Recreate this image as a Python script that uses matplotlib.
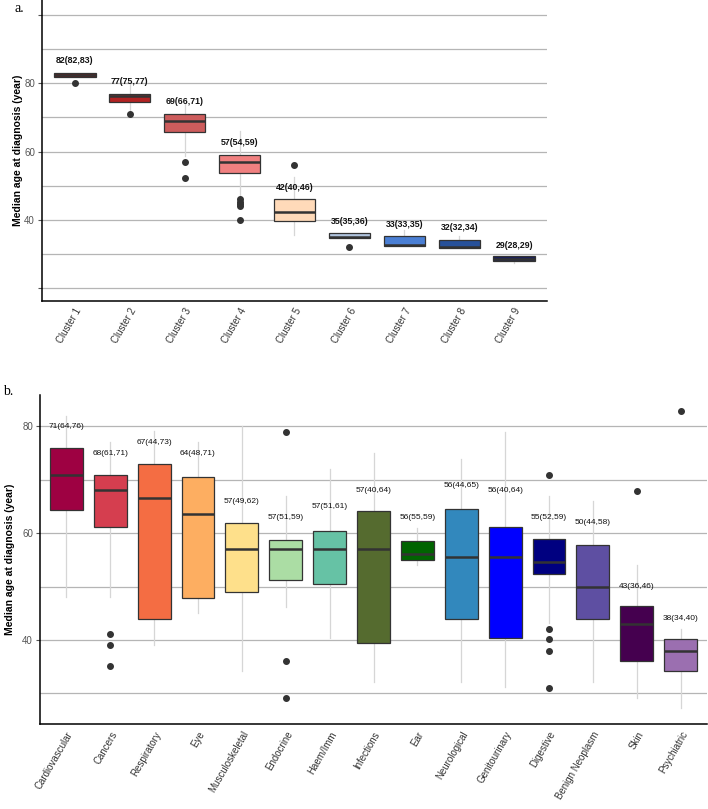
import re
import numpy as np
import matplotlib
matplotlib.use("Agg")
import matplotlib.pyplot as plt
from matplotlib.ticker import FixedLocator

plt.rcParams['font.family'] = ['Liberation Sans', 'DejaVu Sans']

# ---- panel a data: clusters ----
clusters = ['Cluster 1', 'Cluster 2', 'Cluster 3', 'Cluster 4', 'Cluster 5',
            'Cluster 6', 'Cluster 7', 'Cluster 8', 'Cluster 9']
a_q1 = [81.8, 74.6, 65.8, 53.8, 39.6, 34.6, 32.4, 31.6, 27.9]
a_med = [82.4, 76.4, 68.9, 56.8, 42.2, 34.9, 32.7, 31.9, 28.6]
a_q3 = [83.1, 77.0, 71.0, 59.0, 46.1, 36.0, 35.3, 34.2, 29.3]
a_lo = [81.8, 72.0, 58.8, 46.9, 35.6, 34.6, 32.4, 31.6, 27.3]
a_hi = [83.1, 80.0, 74.0, 65.9, 52.4, 36.0, 36.9, 35.3, 29.3]
a_out = [[80.0], [70.9], [56.8, 52.1], [46.0, 45.3, 44.6, 44.0, 40.0], [56.0],
         [32.0], [], [], []]
a_labels = ['82(82,83)', '77(75,77)', '69(66,71)', '57(54,59)', '42(40,46)',
            '35(35,36)', '33(33,35)', '32(32,34)', '29(28,29)']
a_colors = ['#8b0a0a', '#b22222', '#cd5c5c', '#f08080', '#ffdab9',
            '#b0c4de', '#4a7fd4', '#27519a', '#1a1f5c']

# ---- panel b data: disease categories ----
cats = ['Cardiovascular', 'Cancers', 'Respiratory', 'Eye', 'Musculoskeletal',
        'Endocrine', 'Haem/Imm', 'Infections', 'Ear', 'Neurological',
        'Genitourinary', 'Digestive', 'Benign Neoplasm', 'Skin', 'Psychiatric']
b_q1 = [64.3, 61.1, 43.9, 47.8, 49.0, 51.3, 50.5, 39.5, 55.0, 44.0, 40.3, 52.3, 44.0, 36.0, 34.1]
b_med = [71.0, 68.1, 66.6, 63.6, 57.0, 57.0, 57.0, 57.1, 56.1, 55.6, 55.6, 54.6, 50.0, 43.0, 38.0]
b_q3 = [75.9, 71.0, 73.0, 70.5, 62.0, 58.7, 60.5, 64.1, 58.5, 64.5, 61.1, 59.0, 57.8, 46.4, 40.2]
b_lo = [48.0, 48.0, 39.1, 45.1, 34.1, 46.1, 40.3, 32.1, 54.0, 32.1, 31.1, 43.2, 32.1, 29.1, 27.3]
b_hi = [81.9, 77.0, 79.1, 77.0, 80.0, 67.0, 72.0, 75.0, 61.0, 74.0, 79.0, 67.0, 66.0, 54.0, 42.1]
b_out = [[], [41.1, 39.1, 35.1], [], [], [], [78.9, 36.0, 29.1], [], [], [], [], [],
         [71.0, 42.0, 40.1, 38.0, 31.0], [], [68.0], [82.9]]
b_labels = ['71(64,76)', '68(61,71)', '67(44,73)', '64(48,71)', '57(49,62)',
            '57(51,59)', '57(51,61)', '57(40,64)', '56(55,59)', '56(44,65)',
            '56(40,64)', '55(52,59)', '50(44,58)', '43(36,46)', '38(34,40)']
b_colors = ['#9e0142', '#d53e4f', '#f46d43', '#fdae61', '#fee08b', '#abdda4',
            '#66c2a5', '#556b2f', '#006400', '#3288bd', '#0000ff', '#000080',
            '#5e4fa2', '#45004f', '#9b6fb0']

EDGE = '#333333'
GRID = '#b5b5b5'
WHISK = '#d6d6d6'


def draw_panel(ax, names, q1, med, q3, lo, hi, out, labels, colors,
               label_off, label_kw, ylim, grid_vals, xtick_fs):
    stats = [dict(med=m, q1=a, q3=b, whislo=l, whishi=h, fliers=f)
             for m, a, b, l, h, f in zip(med, q1, q3, lo, hi, out)]
    pos = np.arange(1, len(names) + 1)
    bp = ax.bxp(stats, positions=pos, widths=0.75, patch_artist=True,
                showcaps=False,
                boxprops=dict(edgecolor=EDGE, linewidth=0.9, zorder=3),
                medianprops=dict(color=EDGE, linewidth=1.8, zorder=4),
                whiskerprops=dict(color=WHISK, linewidth=0.9, zorder=2),
                flierprops=dict(marker='o', markerfacecolor=EDGE,
                                markeredgecolor=EDGE, markersize=4, zorder=4))
    for patch, c in zip(bp['boxes'], colors):
        patch.set_facecolor(c)
    # label above each box: labelled q3 + offset
    for x, lab in zip(pos, labels):
        q3_lab = float(re.findall(r'\d+', lab)[-1])
        ax.text(x, q3_lab + label_off, lab, ha='center', va='center', **label_kw)

    ax.set_xlim(0.4, len(names) + 0.6)
    ax.set_ylim(*ylim)
    ax.set_xticks(pos)
    ax.set_xticklabels(names, rotation=60, ha='right', va='top',
                       rotation_mode='anchor', fontsize=xtick_fs, color='#333333')
    ax.tick_params(axis='x', length=0, pad=4)
    ax.tick_params(axis='y', length=3, color='#555555', pad=2)
    ax.yaxis.set_minor_locator(FixedLocator(grid_vals))
    ax.tick_params(axis='y', which='minor', length=0)
    ax.grid(axis='y', which='both', color=GRID, linewidth=0.9)
    ax.set_axisbelow(True)
    for s in ['top', 'right']:
        ax.spines[s].set_visible(False)
    for s in ['left', 'bottom']:
        ax.spines[s].set_linewidth(1.1)
        ax.spines[s].set_color('black')
    ax.set_ylabel('Median age at diagnosis (year)', fontsize=7.5, fontweight='bold')


fig = plt.figure(figsize=(7.08, 8.09), dpi=100)

ax_a = fig.add_axes([42 / 708, 1 - 301 / 809, (547 - 42) / 708, 301 / 809])
draw_panel(ax_a, clusters, a_q1, a_med, a_q3, a_lo, a_hi, a_out, a_labels, a_colors,
           3.6, dict(fontsize=6.3, fontweight='bold', color='#111111'),
           (16.2, 104.4), list(range(20, 101, 10)), 7)
ax_a.set_yticks([20, 40, 60, 80, 100])
ax_a.set_yticklabels(['', '40', '60', '80', ''], fontsize=7, color='#555555')
ax_a.yaxis.set_label_coords(-0.037, 0.5)

ax_b = fig.add_axes([40 / 708, 1 - 724 / 809, (707 - 40) / 708, (724 - 395) / 809])
draw_panel(ax_b, cats, b_q1, b_med, b_q3, b_lo, b_hi, b_out, b_labels, b_colors,
           3.95, dict(fontsize=6.0, color='#111111'),
           (24.25, 85.9), list(range(30, 81, 10)), 7)
ax_b.set_yticks([40, 60, 80])
ax_b.set_yticklabels(['40', '60', '80'], fontsize=7, color='#555555')
ax_b.yaxis.set_label_coords(-0.0375, 0.5)

fig.text(14 / 708, 1 - 8 / 809, 'a.', family='Liberation Serif', fontsize=10,
         ha='left', va='center')
fig.text(3 / 708, 1 - 392 / 809, 'b.', family='Liberation Serif', fontsize=10,
         ha='left', va='center')

fig.savefig('out.png', dpi=100)
